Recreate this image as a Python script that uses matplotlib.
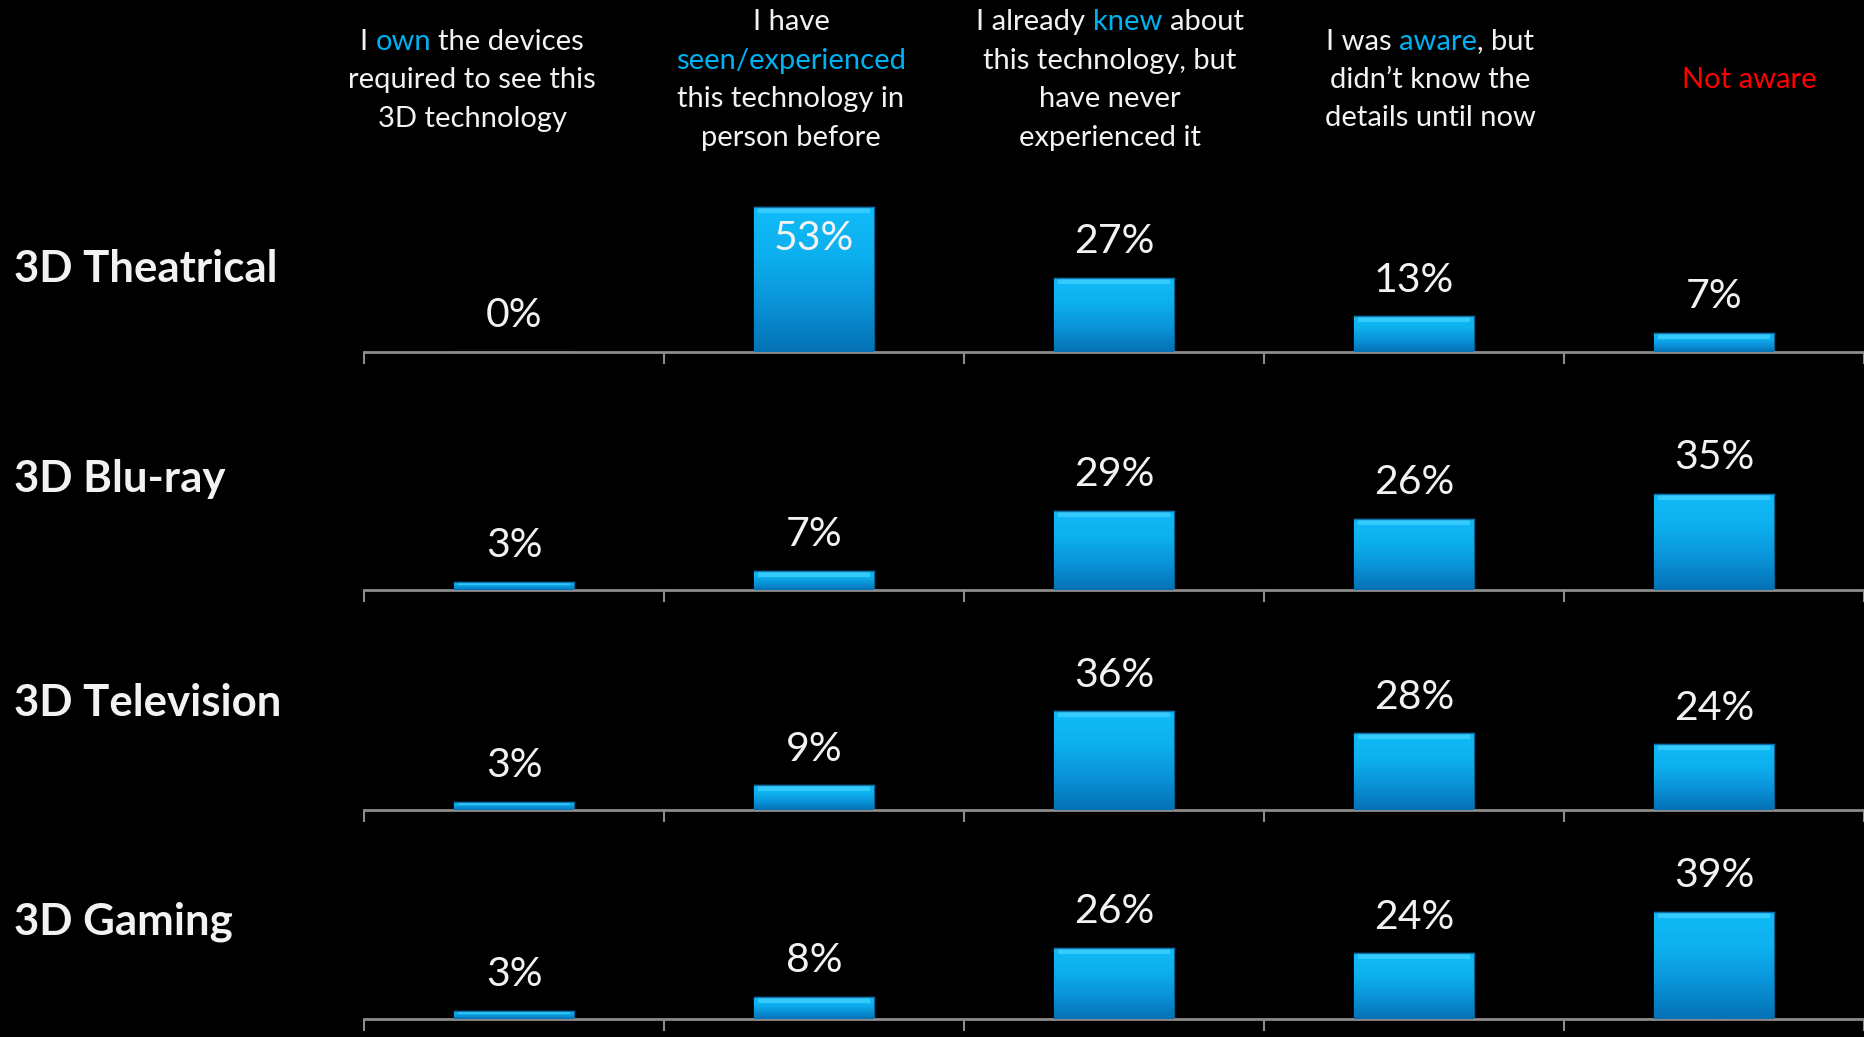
import numpy as np
import matplotlib
matplotlib.use("Agg")
import matplotlib.pyplot as plt
from matplotlib.colors import LinearSegmentedColormap

plt.rcParams['font.family'] = ['Lato', 'DejaVu Sans']

# --- data -------------------------------------------------------------
technologies = ["3D Theatrical", "3D Blu-ray", "3D Television", "3D Gaming"]
theatrical = [0, 53, 27, 13, 7]
bluray = [3, 7, 29, 26, 35]
television = [3, 9, 36, 28, 24]
gaming = [3, 8, 26, 24, 39]
values = [theatrical, bluray, television, gaming]

WHITE = "#F2F2F2"
BLUE = "#00B0F0"
RED = "#FF0000"

# column headers: one list per line, each line is (text, colour) pieces
header_own = [[("I ", WHITE), ("own", BLUE), (" the devices", WHITE)],
              [("required to see this", WHITE)],
              [("3D technology", WHITE)]]
header_seen = [[("I have", WHITE)],
               [("seen/experienced", BLUE)],
               [("this technology in", WHITE)],
               [("person before", WHITE)]]
header_knew = [[("I already ", WHITE), ("knew", BLUE), (" about", WHITE)],
               [("this technology, but", WHITE)],
               [("have never", WHITE)],
               [("experienced it", WHITE)]]
header_aware = [[("I was ", WHITE), ("aware", BLUE), (", but", WHITE)],
                [("didn\u2019t know the", WHITE)],
                [("details until now", WHITE)]]
header_not = [[("Not aware", RED)]]
headers = [header_own, header_seen, header_knew, header_aware, header_not]

# --- layout (figure pixels) -------------------------------------------
W, H = 1864, 1037
fig = plt.figure(figsize=(W / 100, H / 100), dpi=100, facecolor="black")
renderer = fig.canvas.get_renderer()

baselines = [352, 590, 810, 1019]   # y of each row's axis line
row_label_y = [282, 492, 716, 934]  # text baselines of row labels
px_per_pct = 2.74
ymax = 60
ax_left = 364

bar_cmap = LinearSegmentedColormap.from_list(
    "bar", ["#0571B5", "#0A93D8", "#0DB0EE", "#10BCF7"])
grad = np.linspace(0, 1, 128).reshape(-1, 1)

for r, vals in enumerate(values):
    bottom = 1 - baselines[r] / H
    height = ymax * px_per_pct / H
    ax = fig.add_axes([ax_left / W, bottom, 1 - ax_left / W, height])
    ax.set_facecolor("none")
    x = np.arange(len(vals))
    bars = ax.bar(x, vals, width=0.4, color="#0A93D8",
                  edgecolor="#075a8c", linewidth=1.0, zorder=2)
    for b, v in zip(bars, vals):
        if v <= 0:
            continue
        x0 = b.get_x()
        x1 = x0 + b.get_width()
        im = ax.imshow(grad, extent=[x0, x1, 0, v], origin="lower",
                       cmap=bar_cmap, aspect="auto", zorder=3)
        im.set_clip_path(b)
        # light bevel along the top edge
        hl = min(2.2, v * 0.35)
        ax.fill_between([x0 + 0.012, x1 - 0.012], v - hl, v,
                        color="#3FD0FF", alpha=0.8, lw=0, zorder=4)
        ax.plot([x0, x1], [v, v], color="#0B6FA8", lw=1, zorder=5)

    for xi, v in zip(x, vals):
        ypos = v + 9
        if ypos + 11 > ymax:
            ypos = v - 15.7
        ax.text(xi, ypos, f"{v}%", ha="center", va="baseline",
                fontsize=29.5, color=WHITE, zorder=6, clip_on=False)

    ax.set_xlim(-0.5, len(vals) - 0.5)
    ax.set_ylim(0, ymax)
    for s in ["top", "right", "left"]:
        ax.spines[s].set_visible(False)
    ax.spines["bottom"].set_color("#8C8C8C")
    ax.spines["bottom"].set_linewidth(2)
    ax.set_yticks([])
    ax.set_xticks(np.arange(len(vals) + 1) - 0.5)
    ax.set_xticklabels([])
    ax.tick_params(axis="x", length=8.6, width=1.5, color="#8C8C8C",
                   direction="out")

    fig.text(14 / W, 1 - row_label_y[r] / H, technologies[r],
             fontsize=31.5, fontweight="bold", color=WHITE,
             ha="left", va="baseline")


# --- multicoloured headers --------------------------------------------
def text_width(s, size):
    t = fig.text(0, 0, s, fontsize=size)
    w = t.get_window_extent(renderer).width
    t.remove()
    return w


def advance(s, size):
    if not s:
        return 0.0
    return text_width(s + "x", size) - text_width("x", size)


head_size = 21
head_cx = [472, 791, 1110, 1430, 1749]
head_mid = 88
line_step = 38.5

for col, lines in enumerate(headers):
    n = len(lines)
    for k, pieces in enumerate(lines):
        yb = head_mid + (k - (n - 1) / 2) * line_step
        full = "".join(p[0] for p in pieces)
        total = text_width(full, head_size)
        xs = head_cx[col] - total / 2
        prefix = ""
        for s, c in pieces:
            lead = len(s) - len(s.lstrip())
            off = advance(prefix + s[:lead], head_size)
            fig.text((xs + off) / W, 1 - yb / H, s.strip(), fontsize=head_size,
                     color=c, ha="left", va="baseline")
            prefix += s

fig.savefig("out.png", dpi=100, facecolor="black")
